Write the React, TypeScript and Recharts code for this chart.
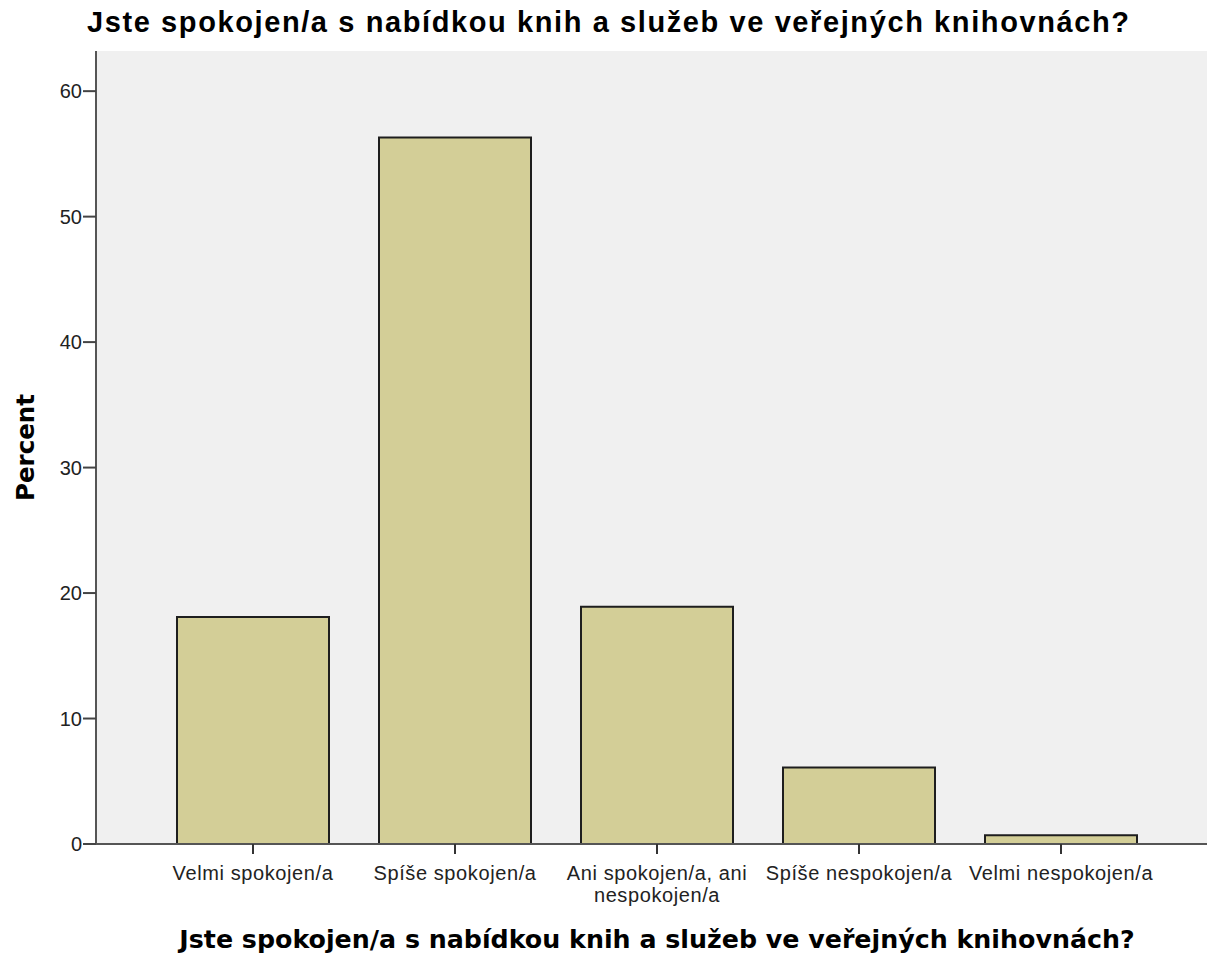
import React from "react";
import { BarChart, Bar, XAxis, YAxis, CartesianGrid, Text } from "recharts";

const categories = [
  "Velmi spokojen/a",
  "Spíše spokojen/a",
  "Ani spokojen/a, ani nespokojen/a",
  "Spíše nespokojen/a",
  "Velmi nespokojen/a",
];
const percents = [18.1, 56.3, 18.9, 6.1, 0.7];
const yTicks = [0, 10, 20, 30, 40, 50, 60];

const TITLE = "Jste spokojen/a s nabídkou knih a služeb ve veřejných knihovnách?";

const data = categories.map((name, i) => ({ name, percent: percents[i] }));

const FONT = "'Liberation Sans', Arial, sans-serif";
const BOLD_FONT = "'DejaVu Sans', Verdana, sans-serif";

function CategoryTick(props: any) {
  const { x, y, payload } = props;
  return (
    <Text
      x={x}
      y={y + 10}
      width={205}
      textAnchor="middle"
      verticalAnchor="start"
      fontSize={20}
      lineHeight={22}
      fill="#222"
      fontFamily={FONT}
      style={{ letterSpacing: 0.6 }}
    >
      {payload.value}
    </Text>
  );
}

export default function App() {
  return (
    <div
      style={{
        position: "absolute",
        left: 0,
        top: 0,
        width: 1207,
        height: 956,
        overflow: "hidden",
        background: "#fff",
        fontFamily: FONT,
      }}
    >
      <div
        style={{
          position: "absolute",
          left: 87,
          top: 6,
          fontSize: 29,
          fontWeight: "bold",
          letterSpacing: 1.6,
          color: "#000",
          whiteSpace: "nowrap",
        }}
      >
        {TITLE}
      </div>
      <BarChart
        width={1230}
        height={956}
        data={data}
        margin={{ top: 51, right: 12, left: 0, bottom: 0 }}
      >
        <CartesianGrid fill="#f0f0f0" horizontal={false} vertical={false} />
        <XAxis
          xAxisId="top"
          orientation="top"
          dataKey="name"
          height={0}
          tick={false}
          tickLine={false}
          axisLine={{ stroke: "#555", strokeWidth: 2 }}
        />
        <XAxis
          dataKey="name"
          height={112}
          padding={{ left: 56, right: 56 }}
          tickSize={10}
          tickLine={{ stroke: "#333", strokeWidth: 2 }}
          axisLine={{ stroke: "#555", strokeWidth: 2 }}
          tick={<CategoryTick />}
          interval={0}
          label={{
            value: TITLE,
            position: "insideBottom",
            offset: 8,
            fontSize: 25.3,
            fontWeight: "bold",
            fontFamily: BOLD_FONT,
            fill: "#000",
          }}
        />
        <YAxis
          width={96}
          domain={[0, 63.2]}
          ticks={yTicks}
          allowDataOverflow
          tickSize={13}
          tickMargin={1}
          tickLine={{ stroke: "#444", strokeWidth: 2 }}
          axisLine={{ stroke: "#555", strokeWidth: 2 }}
          tick={{ fontSize: 20, fill: "#222" }}
          label={{
            value: "Percent",
            angle: -90,
            position: "insideLeft",
            offset: 25,
            fontSize: 24.5,
            fontWeight: "bold",
            fontFamily: BOLD_FONT,
            fill: "#000",
            style: { textAnchor: "middle" },
          }}
        />
        <Bar
          dataKey="percent"
          fill="#d3ce97"
          stroke="#1e1e1e"
          strokeWidth={2}
          barSize={152}
          isAnimationActive={false}
        />
      </BarChart>
    </div>
  );
}
